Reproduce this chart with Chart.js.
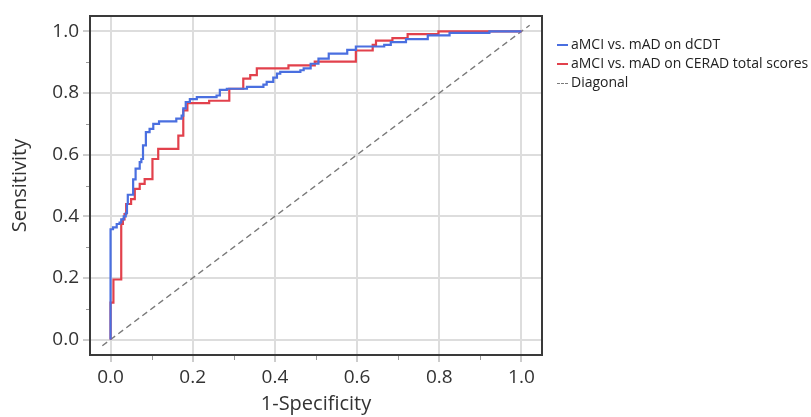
<!DOCTYPE html>
<html>
<head>
<meta charset="utf-8">
<script src="https://cdn.jsdelivr.net/npm/chart.js@4/dist/chart.umd.min.js"></script>
<style>
  body { margin: 0; background: #fff; }
  #wrap { position: relative; width: 811px; height: 417px; }
  #leyenda { position: absolute; left: 557px; top: 34px; font: 14px "Open Sans", sans-serif; color: #222; }
  #leyenda div { height: 19px; line-height: 19px; white-space: nowrap; }
  #leyenda span.m { display: inline-block; width: 11px; height: 0; border-top: 2px solid; vertical-align: middle; margin-right: 3px; }
</style>
</head>
<body>
<div id="wrap">
  <canvas id="roc" width="811" height="417"></canvas>
  <div id="leyenda"></div>
</div>
<script>
// curva dCDT (1-especificidad, sensibilidad)
const dcdtFpr = [0, 0, 0.006, 0.015, 0.022, 0.026, 0.032, 0.037, 0.040, 0.042, 0.055, 0.061, 0.071, 0.075, 0.079, 0.086, 0.095, 0.104, 0.118, 0.160, 0.173, 0.177, 0.183, 0.193, 0.210, 0.258, 0.266, 0.283, 0.332, 0.372, 0.380, 0.396, 0.405, 0.413, 0.462, 0.470, 0.487, 0.506, 0.531, 0.576, 0.597, 0.666, 0.682, 0.719, 0.772, 0.825, 0.922, 1.0];
const dcdtTpr = [0, 0.358, 0.364, 0.375, 0.380, 0.390, 0.400, 0.410, 0.440, 0.470, 0.520, 0.555, 0.576, 0.586, 0.630, 0.673, 0.684, 0.700, 0.708, 0.717, 0.727, 0.750, 0.771, 0.780, 0.787, 0.792, 0.810, 0.814, 0.820, 0.827, 0.836, 0.850, 0.863, 0.869, 0.874, 0.880, 0.895, 0.912, 0.928, 0.940, 0.951, 0.956, 0.965, 0.975, 0.987, 0.995, 1.0, 1.0];

// curva CERAD
const ceradFpr = [0, 0, 0.007, 0.026, 0.030, 0.034, 0.038, 0.050, 0.059, 0.071, 0.083, 0.102, 0.116, 0.165, 0.177, 0.187, 0.240, 0.289, 0.323, 0.340, 0.356, 0.433, 0.497, 0.597, 0.638, 0.646, 0.686, 0.723, 0.798, 1.0];
const ceradTpr = [0, 0.120, 0.195, 0.375, 0.390, 0.407, 0.440, 0.456, 0.489, 0.505, 0.521, 0.586, 0.619, 0.662, 0.744, 0.767, 0.775, 0.814, 0.847, 0.858, 0.880, 0.890, 0.902, 0.938, 0.956, 0.970, 0.978, 0.991, 1.0, 1.0];

const diagX = [-0.02, 1.02];
const diagY = [-0.02, 1.02];

const majorTicks = [0, 0.2, 0.4, 0.6, 0.8, 1.0];
const minorTicks = [0.1, 0.3, 0.5, 0.7, 0.9];
const tickLabels = ['0.0', '0.2', '0.4', '0.6', '0.8', '1.0'];

const series = [
    { label: 'aMCI vs. mAD on dCDT', color: '#4a6fe0', x: dcdtFpr, y: dcdtTpr, dash: [] },
    { label: 'aMCI vs. mAD on CERAD total scores', color: '#e2414c', x: ceradFpr, y: ceradTpr, dash: [] },
    { label: 'Diagonal', color: '#7a7a7a', x: diagX, y: diagY, dash: [6, 4] }
];

const fuente = { family: '"Open Sans", sans-serif', size: 19 };

const marco = {
    id: 'marco',
    afterDraw(chart) {
        const { ctx, chartArea: a, scales: { x, y } } = chart;
        ctx.save();
        ctx.strokeStyle = '#9a9a9a';
        ctx.lineWidth = 1;
        ctx.beginPath();
        minorTicks.forEach(v => {
            const px = Math.round(x.getPixelForValue(v)) + 0.5;
            ctx.moveTo(px, a.bottom);
            ctx.lineTo(px, a.bottom + 5);
            const py = Math.round(y.getPixelForValue(v)) + 0.5;
            ctx.moveTo(a.left, py);
            ctx.lineTo(a.left - 4, py);
        });
        ctx.stroke();
        ctx.strokeStyle = '#3a3a3a';
        ctx.lineWidth = 2;
        ctx.strokeRect(a.left, a.top, a.right - a.left, a.bottom - a.top);
        ctx.restore();
    }
};

const ejeComun = {
    type: 'linear',
    min: -0.05,
    max: 1.05,
    afterBuildTicks: s => { s.ticks = majorTicks.map(v => ({ value: v })); },
    border: { display: false },
    grid: { color: '#dddddd', lineWidth: 2, tickLength: 7, tickColor: '#9a9a9a', tickWidth: 1 },
    ticks: { callback: (v, i) => tickLabels[i], font: fuente, color: '#333', padding: 4, maxRotation: 0, autoSkip: false }
};

new Chart(document.getElementById('roc').getContext('2d'), {
    type: 'line',
    data: {
        datasets: series.map(s => ({
            label: s.label,
            data: s.x.map((v, i) => ({ x: v, y: s.y[i] })),
            borderColor: s.color,
            borderWidth: s.dash.length ? 1.4 : 2.2,
            borderDash: s.dash,
            stepped: s.dash.length ? false : 'before',
            pointRadius: 0,
            fill: false
        }))
    },
    options: {
        responsive: false,
        animation: false,
        layout: { padding: { top: 16, right: 269, left: 0, bottom: 0 } },
        plugins: { legend: { display: false }, tooltip: { enabled: false } },
        scales: {
            x: {
                ...ejeComun,
                position: 'bottom',
                afterFit: s => { s.height = 62; },
                title: { display: true, text: '1-Specificity', font: { ...fuente, size: 20 }, color: '#333', padding: { top: 0, bottom: 1 } }
            },
            y: {
                ...ejeComun,
                position: 'left',
                afterFit: s => { s.width = 90; },
                title: { display: true, text: 'Sensitivity', font: { ...fuente, size: 20 }, color: '#333', padding: { top: 8, bottom: 0 } }
            }
        }
    },
    plugins: [marco]
});

// leyenda
const leyenda = document.getElementById('leyenda');
series.forEach(s => {
    const fila = document.createElement('div');
    const marca = document.createElement('span');
    marca.className = 'm';
    marca.style.borderTopColor = s.color;
    if (s.dash.length) { marca.style.borderTopStyle = 'dashed'; marca.style.borderTopWidth = '1px'; }
    fila.appendChild(marca);
    fila.appendChild(document.createTextNode(s.label));
    leyenda.appendChild(fila);
});
</script>
</body>
</html>
